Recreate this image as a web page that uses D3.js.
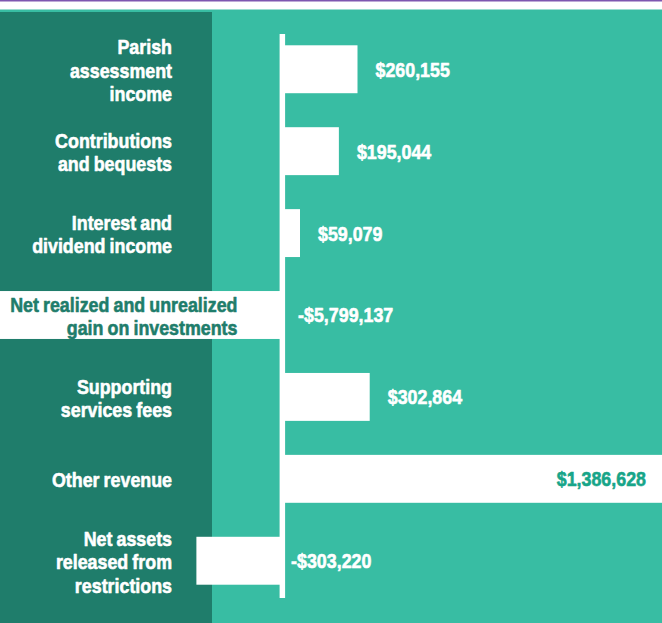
<!DOCTYPE html>
<html lang="en">
<head>
<meta charset="utf-8">
<title>Revenue bars</title>
<script src="https://d3js.org/d3.v7.min.js"></script>
<style>
  body { margin: 0; background: #fff; }
  .lbl {
    font-family: "Liberation Sans", Arial, sans-serif;
    font-weight: 700;
    font-size: 21px;
    word-spacing: -1px;
    stroke-width: 0.6px;
    stroke-linejoin: round;
  }
</style>
</head>
<body>
<div id="chart"></div>
<script>
// categories (each line of the label) and their values
var categories = [
  ["Parish", "assessment", "income"],
  ["Contributions", "and bequests"],
  ["Interest and", "dividend income"],
  ["Net realized and unrealized", "gain on investments"],
  ["Supporting", "services fees"],
  ["Other revenue"],
  ["Net assets", "released from", "restrictions"]
];
var values = [260155, 195044, 59079, -5799137, 302864, 1386628, -303220];
var valueLabels = ["$260,155", "$195,044", "$59,079", "-$5,799,137", "$302,864", "$1,386,628", "-$303,220"];

var width = 662, height = 623;
var dark = "#1f7d6b", teal = "#38bda3", purple = "#7e57b0";
var sx = 0.85; // squeeze text to look condensed

var svg = d3.select("#chart").append("svg")
  .attr("width", width)
  .attr("height", height);

// header stripes + panels
svg.append("rect").attr("width", width).attr("height", height).attr("fill", "#fff");
svg.append("rect").attr("width", width).attr("height", 1.5).attr("fill", purple);
svg.append("rect").attr("y", 9.5).attr("width", width).attr("height", height).attr("fill", teal);
svg.append("rect").attr("y", 12).attr("width", 212).attr("height", height).attr("fill", dark);

var idx = d3.range(values.length);

// value scale, clamped so the big bars run off the edges
var x = d3.scaleLinear()
  .domain([-990000, 1325000])
  .range([0, width])
  .clamp(true);

var y = d3.scaleBand()
  .domain(idx)
  .range([33, 597])
  .paddingInner(0.415)
  .paddingOuter(0.15);

// bars
svg.append("g").selectAll("rect")
  .data(idx)
  .join("rect")
    .attr("x", i => Math.min(x(values[i]), x(0)))
    .attr("y", i => y(i))
    .attr("width", i => Math.abs(x(values[i]) - x(0)))
    .attr("height", y.bandwidth())
    .attr("fill", "#fff");

// zero line
var y0 = y.range()[0], y1 = y.range()[1];
svg.append("rect")
  .attr("x", x(0) - 3.5)
  .attr("y", y0 + 1)
  .attr("width", 5.5)
  .attr("height", y1 - y0)
  .attr("fill", "#fff");

// draws a condensed label: g positioned at (px, 0), text squeezed horizontally
function squeezed(parent, px, anchor) {
  var g = parent.append("g");
  var t = g.append("text")
    .attr("class", "lbl")
    .attr("text-anchor", anchor);
  g.place = function(nx) { g.attr("transform", "translate(" + nx + ",0) scale(" + sx + ",1)"); return g; };
  g.place(px);
  g.txt = t;
  return g;
}

// category labels, right aligned; shift right if too long
var lineH = 23.5;
var catG = svg.append("g");
idx.forEach(function(i) {
  var lines = categories[i];
  var cy = y(i) + y.bandwidth() / 2 + 1;
  var g = squeezed(catG, 172, "end");
  lines.forEach(function(s, j) {
    g.txt.append("tspan")
      .attr("x", 0)
      .attr("y", cy + (j - (lines.length - 1) / 2) * lineH + 7.5)
      .text(s);
  });
  var w = g.txt.node().getBBox().width * sx;
  var ax = Math.max(172, 10 + w);
  g.place(ax);
  // label sits on a white bar -> dark text
  var c = x(values[i]) < ax - w ? dark : "#fff";
  g.txt.attr("fill", c).attr("stroke", c);
});

// value labels
var valG = svg.append("g");
idx.forEach(function(i) {
  var v = values[i], xv = x(v);
  var over = xv >= width;
  var px = over ? width - 16 : (v < 0 ? x(0) + (xv <= 0 ? 15 : 8) : xv + 18);
  var g = squeezed(valG, px, over ? "end" : "start");
  var c = over ? "#17a589" : "#fff";
  g.txt
    .attr("y", y(i) + y.bandwidth() / 2 + 7.5)
    .attr("fill", c)
    .attr("stroke", c)
    .text(valueLabels[i]);
});
</script>
</body>
</html>
